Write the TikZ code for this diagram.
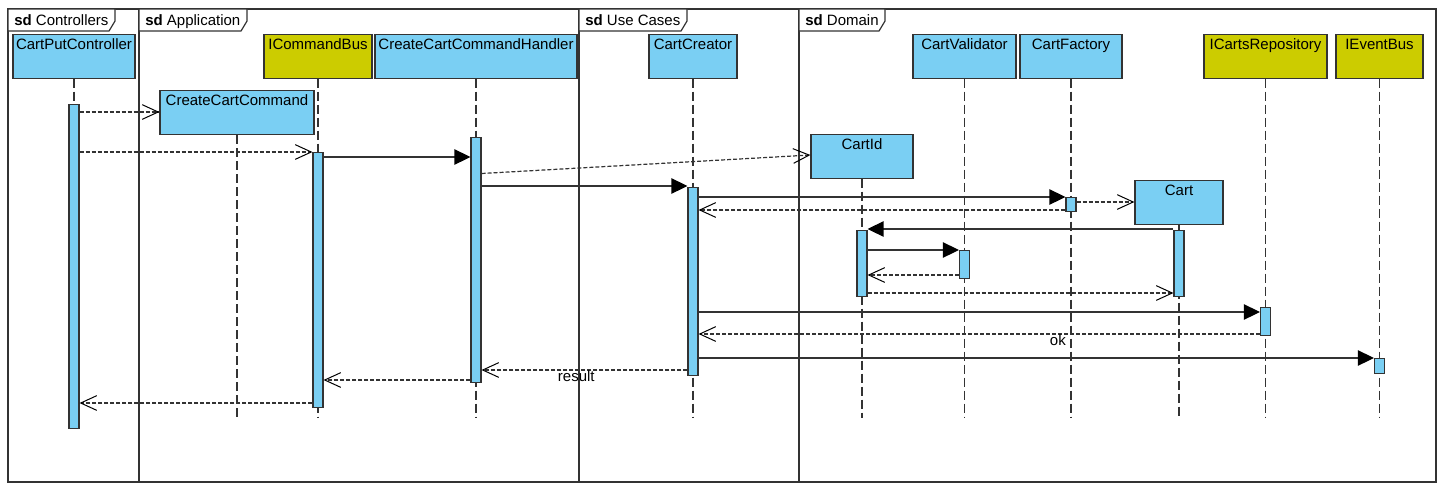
\documentclass[tikz,border=0pt]{standalone}
\usepackage{fontspec}
\setmainfont{Liberation Sans}
\usetikzlibrary{arrows.meta}
\definecolor{boxblue}{RGB}{122,207,243}
\definecolor{ifaceolive}{RGB}{204,204,0}
\definecolor{edgegray}{RGB}{51,51,51}
\tikzstyle{frame} = [line width=1.2pt, draw=edgegray]
\tikzstyle{tab} = [line width=0.9pt, draw=edgegray, fill=white]
\tikzstyle{lifebox} = [rectangle, anchor=north, 
inner xsep=0pt, 
inner ysep=0pt, 
text height=11.25pt, 
text depth=21.75pt, 
draw=edgegray, line width=0.9pt, 
fill=boxblue]
\tikzstyle{ifacebox} = [lifebox, fill=ifaceolive]
\tikzstyle{bar} = [rectangle, anchor=north, 
minimum width=7.5pt, 
inner sep=0pt, 
draw=edgegray, line width=0.8pt, 
fill=boxblue]
\tikzstyle{lifeline} = [line width=0.9pt, draw=edgegray, dash pattern=on 6.75pt off 3pt]
\tikzstyle{call} = [line width=0.9pt, draw=edgegray, -{Triangle[length=12pt,width=11.5pt,color=black]}]
\tikzstyle{reply} = [line width=0.9pt, draw=edgegray, dash pattern=on 3pt off 1.5pt, -{Straight Barb[length=12pt,width=11pt,color=black,line width=0.75pt]}]
\tikzstyle{msglabel} = [below, inner sep=0.3pt]

\begin{document}
\begin{tikzpicture}[x=0.75pt, y=-0.75pt, font=\fontsize{11.25}{13.5}\selectfont]
\useasboundingbox (0,0) rectangle (1447,490);

\draw [frame] (8,9) rectangle (1436,482);
\foreach \x in {139,579,799}
  \draw [frame] (\x,9) -- (\x,482);
\foreach \x/\w/\name/\title in {8/107/tabCtl/Controllers, 139/108/tabApp/Application, 579/108/tabUc/Use Cases, 799/86/tabDom/Domain} {
  \draw [tab] (\x,9) -- ++(\w,0) -- ++(0,12) -- ++(-6,10) -- (\x,31) -- cycle;
  \node (\name) [anchor=base west, inner sep=0pt] at (\x+6,25) {\textbf{sd} \title};
}

\node (cpc) [lifebox, minimum width=91.5pt] at (74,33.5) {CartPutController};
\node (ccc) [lifebox, minimum width=115.5pt] at (237,90) {CreateCartCommand};
\node (bus) [ifacebox, minimum width=81pt] at (318,33.5) {ICommandBus};
\node (handler) [lifebox, minimum width=151.5pt] at (476,33.5) {CreateCartCommandHandler};
\node (creator) [lifebox, minimum width=66pt] at (693,33.5) {CartCreator};
\node (cartid) [lifebox, minimum width=76.5pt] at (862,133.5) {CartId};
\node (validator) [lifebox, minimum width=77.25pt] at (964.5,33.5) {CartValidator};
\node (factory) [lifebox, minimum width=76.5pt] at (1071,33.5) {CartFactory};
\node (cart) [lifebox, minimum width=66pt] at (1179,179.5) {Cart};
\node (repo) [ifacebox, minimum width=92.25pt] at (1265.5,33.5) {ICartsRepository};
\node (evbus) [ifacebox, minimum width=65.25pt] at (1379.5,33.5) {IEventBus};

\foreach \b in {cpc,ccc,bus,handler,creator,cartid,validator,factory,cart,repo,evbus}
  \draw [lifeline] (\b.south) -- (\b.south |- 0,418);

\node (aCpc) [bar, minimum height=243pt] at (cpc |- 0,104) {};
\node (aBus) [bar, minimum height=191pt] at (bus |- 0,152) {};
\node (aHandler) [bar, minimum height=183.4pt] at (handler |- 0,137) {};
\node (aCreator) [bar, minimum height=141.4pt] at (creator |- 0,186.5) {};
\node (aFactory) [bar, minimum height=10.5pt] at (factory |- 0,196.5) {};
\node (aCartId) [bar, minimum height=49.5pt] at (cartid |- 0,230) {};
\node (aValid) [bar, minimum height=21pt] at (validator |- 0,250) {};
\node (aCart) [bar, minimum height=49.5pt] at (cart |- 0,230) {};
\node (aRepo) [bar, minimum height=21.4pt] at (repo |- 0,306.5) {};
\node (aEvBus) [bar, minimum height=11.25pt] at (evbus |- 0,357.5) {};

\draw [reply] (aCpc.east |- 0,112) -- (ccc.west |- 0,112);
\draw [reply] (aCpc.east |- 0,152) -- (aBus.west |- 0,152);
\draw [call] (aBus.east |- 0,157) -- (aHandler.west |- 0,157);
\draw [reply] (aHandler.east |- 0,173.5) -- (cartid.west |- 0,155);
\draw [call] (aHandler.east |- 0,186) -- (aCreator.west |- 0,186);
\draw [call] (aCreator.east |- 0,197) -- (aFactory.west |- 0,197);
\draw [reply] (aFactory.east |- 0,202) -- (cart.west |- 0,202);
\draw [reply] (aFactory.west |- 0,210) -- (aCreator.east |- 0,210);
\draw [call] (aCart.west |- 0,229) -- (aCartId.east |- 0,229);
\draw [call] (aCartId.east |- 0,250) -- (aValid.west |- 0,250);
\draw [reply] (aValid.west |- 0,275) -- (aCartId.east |- 0,275);
\draw [reply] (aCartId.east |- 0,293) -- (aCart.west |- 0,293);
\draw [call] (aCreator.east |- 0,312) -- (aRepo.west |- 0,312);
\draw [reply] (aRepo.west |- 0,334) -- (aCreator.east |- 0,334) node (okLbl) [msglabel, pos=0.36] {ok};
\draw [call] (aCreator.east |- 0,358) -- (aEvBus.west |- 0,358);
\draw [reply] (aCreator.west |- 0,370) -- (aHandler.east |- 0,370) node (resultLbl) [msglabel, pos=0.54] {result};
\draw [reply] (aHandler.west |- 0,380) -- (aBus.east |- 0,380);
\draw [reply] (aBus.west |- 0,403) -- (aCpc.east |- 0,403);

\end{tikzpicture}
\end{document}
